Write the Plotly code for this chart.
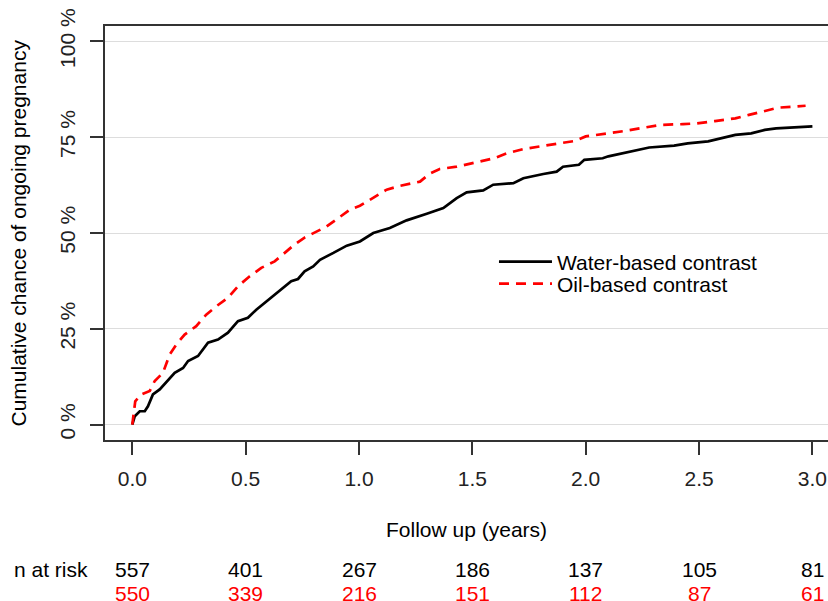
import plotly.graph_objects as go

# ---- data ----
water_t = [0, 0.011, 0.033, 0.055, 0.069, 0.091, 0.121, 0.157, 0.187, 0.224, 0.246, 0.29, 0.334,
           0.378, 0.422, 0.466, 0.51, 0.547, 0.584, 0.628, 0.665, 0.701, 0.731, 0.76, 0.798, 0.828,
           0.887, 0.946, 1.004, 1.063, 1.136, 1.21, 1.299, 1.372, 1.431, 1.475, 1.548, 1.592, 1.681,
           1.725, 1.813, 1.872, 1.9, 1.97, 1.994, 2.075, 2.1, 2.13, 2.19, 2.23, 2.28, 2.39, 2.45,
           2.54, 2.6, 2.66, 2.73, 2.79, 2.84, 2.93, 3.0]
water_pct = [0, 2.2, 3.5, 3.5, 4.8, 7.9, 9.2, 11.4, 13.5, 14.8, 16.6, 17.9, 21.4,
             22.2, 24.0, 27.0, 27.9, 30.0, 31.8, 33.9, 35.7, 37.4, 38.0, 40.0, 41.3, 43.0,
             44.8, 46.7, 47.8, 50.0, 51.3, 53.3, 55.0, 56.5, 59.1, 60.6, 61.1, 62.6, 63.0,
             64.3, 65.4, 66.0, 67.3, 67.8, 69.1, 69.5, 70.0, 70.4, 71.3, 71.7, 72.3, 72.8, 73.4,
             73.9, 74.7, 75.6, 76.0, 76.9, 77.3, 77.5, 77.8]

oil_t = [0, 0.013, 0.04, 0.077, 0.099, 0.135, 0.165, 0.194, 0.231, 0.282, 0.326, 0.371, 0.422,
         0.466, 0.518, 0.569, 0.628, 0.672, 0.716, 0.76, 0.798, 0.857, 0.902, 0.96, 1.004, 1.063,
         1.122, 1.181, 1.269, 1.31, 1.356, 1.431, 1.52, 1.596, 1.652, 1.725, 1.799, 1.88, 1.95,
         2.0, 2.08, 2.17, 2.26, 2.33, 2.43, 2.49, 2.57, 2.66, 2.72, 2.78, 2.85, 2.97]
oil_pct = [0, 6.1, 7.9, 8.8, 11.4, 13.5, 18.3, 20.9, 23.5, 25.7, 28.7, 30.9, 33.1,
           36.1, 38.7, 40.9, 42.6, 44.8, 47.0, 48.8, 50.0, 51.7, 53.6, 56.1, 57.1, 59.1,
           61.3, 62.3, 63.4, 65.4, 66.7, 67.3, 68.4, 69.5, 70.8, 71.9, 72.6, 73.3, 74.0,
           75.2, 75.8, 76.6, 77.5, 78.2, 78.4, 78.6, 79.2, 79.9, 80.8, 81.7, 82.7, 83.2]

risk_times = [0.0, 0.5, 1.0, 1.5, 2.0, 2.5, 3.0]
risk_water = [557, 401, 267, 186, 137, 105, 81]
risk_oil = [550, 339, 216, 151, 112, 87, 61]

x_ticks = [0.0, 0.5, 1.0, 1.5, 2.0, 2.5, 3.0]
x_ticktext = ["0.0", "0.5", "1.0", "1.5", "2.0", "2.5", "3.0"]
y_ticks = [0, 25, 50, 75, 100]
y_ticktext = ["0 %", "25 %", "50 %", "75 %", "100 %"]

FONT = "Liberation Sans, Arial, sans-serif"
FS = 21
AX = "#333333"

fig = go.Figure()
fig.add_trace(go.Scatter(x=water_t, y=water_pct, mode="lines",
                         line=dict(color="black", width=2.7), name="Water-based contrast",
                         legend="legend"))
fig.add_trace(go.Scatter(x=oil_t, y=oil_pct, mode="lines",
                         line=dict(color="#ff0000", width=2.7, dash="10px,7px"),
                         name="Oil-based contrast", legend="legend2"))

# n at risk table
annotations = []
for t, w, o in zip(risk_times, risk_water, risk_oil):
    annotations.append(dict(x=t, y=-0.312, xref="x", yref="paper", text=str(w), showarrow=False,
                            font=dict(size=FS, color="black", family=FONT), yanchor="middle"))
    annotations.append(dict(x=t, y=-0.370, xref="x", yref="paper", text=str(o), showarrow=False,
                            font=dict(size=FS, color="#ff0000", family=FONT), yanchor="middle"))
annotations.append(dict(x=-0.1286, y=-0.312, xref="paper", yref="paper",
                        text="n at risk", showarrow=False, xanchor="left",
                        font=dict(size=FS, color="black", family=FONT), yanchor="middle"))
annotations.append(dict(x=0.5, y=-0.217, xref="paper", yref="paper", text="Follow up (years)",
                        showarrow=False, font=dict(size=FS, color="black", family=FONT),
                        yanchor="middle"))
annotations.append(dict(x=-0.121, y=0.5, xref="paper", yref="paper",
                        text="Cumulative chance of ongoing pregnancy", textangle=-90,
                        showarrow=False, font=dict(size=FS, color="black", family=FONT),
                        xanchor="center", yanchor="middle"))

leg_common = dict(xanchor="left", yanchor="middle", bgcolor="rgba(0,0,0,0)",
                  font=dict(size=FS, family=FONT, color="black"), itemwidth=53)

fig.update_layout(
    width=828, height=601,
    margin=dict(l=105, r=0, t=26, b=161),
    paper_bgcolor="white", plot_bgcolor="white",
    font=dict(family=FONT, size=FS, color="black"),
    showlegend=True,
    legend=dict(x=0.538, y=0.43, **leg_common),
    legend2=dict(x=0.538, y=0.377, **leg_common),
    annotations=annotations,
    xaxis=dict(range=[-0.1204, 3.0688], tickvals=x_ticks, ticktext=x_ticktext,
               showgrid=False, zeroline=False, showline=True, linecolor=AX, linewidth=1.5,
               mirror=True, ticks="outside", ticklen=13, tickwidth=1.5, tickcolor=AX,
               ticklabelstandoff=6, tickfont=dict(size=FS, color="#222222")),
    yaxis=dict(range=[-4, 104], tickvals=y_ticks, ticktext=y_ticktext,
               showgrid=True, gridcolor="#dddddd", gridwidth=1, zeroline=False,
               showline=True, linecolor=AX, linewidth=1.5, mirror=False,
               ticks="outside", ticklen=13, tickwidth=1.5, tickcolor=AX, tickangle=-90,
               ticklabelstandoff=7, tickfont=dict(size=FS, color="#222222")),
)

fig.write_html("out.html", config={"displayModeBar": False},
               post_script="document.body.style.margin='0px';")
